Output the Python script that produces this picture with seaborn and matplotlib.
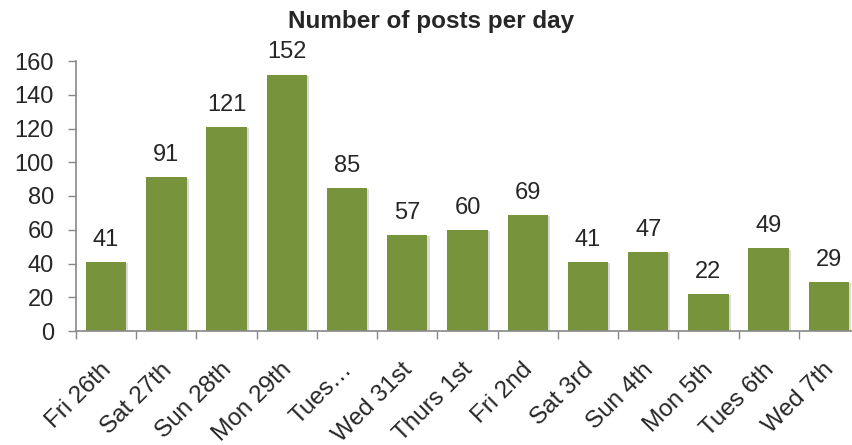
import matplotlib
matplotlib.use("Agg")
import matplotlib.pyplot as plt
import matplotlib.transforms as mtransforms
import matplotlib.patheffects as pe
import seaborn as sns
import pandas as pd
import numpy as np
from matplotlib.ticker import FixedLocator

days = ["Fri 26th", "Sat 27th", "Sun 28th", "Mon 29th", "Tues…", "Wed 31st",
        "Thurs 1st", "Fri 2nd", "Sat 3rd", "Sun 4th", "Mon 5th", "Tues 6th", "Wed 7th"]
posts = [41, 91, 121, 152, 85, 57, 60, 69, 41, 47, 22, 49, 29]
y_ticks = [0, 20, 40, 60, 80, 100, 120, 140, 160]

sns.set_style("white")
plt.rcParams["font.family"] = ["Liberation Sans", "DejaVu Sans"]

df = pd.DataFrame({"day": days, "posts": posts})

fig = plt.figure(figsize=(8.52, 4.45), dpi=100)
ax = fig.add_axes([76 / 852, 1 - 331 / 445, 783 / 852, 270 / 445])

sns.barplot(data=df, x="day", y="posts", color="#77933C", saturation=1,
            width=0.67, ax=ax, edgecolor="none")

# soft drop shadow on the bars
for bar in ax.patches:
    bar.set_path_effects([pe.SimplePatchShadow(offset=(1.5, -1), shadow_rgbFace="#9a9a9a",
                                               alpha=0.35),
                          pe.Normal()])

ax.set_xlim(-0.5, len(days) - 0.5)
ax.set_ylim(0, 160)
ax.set_yticks(y_ticks)
ax.tick_params(axis="y", labelsize=17, length=6, width=1, color="#888888",
               direction="out", left=True, pad=10)

# category labels at bar centres, tick marks at category boundaries
ax.set_xticks(range(len(days)))
ax.set_xticklabels(days, rotation=45, ha="right", va="top",
                   rotation_mode="anchor", fontsize=17.5)
ax.tick_params(axis="x", which="major", length=0, pad=20)
shift = mtransforms.ScaledTranslation(-6 / 100, 0, fig.dpi_scale_trans)
for lab in ax.get_xticklabels():
    lab.set_transform(lab.get_transform() + shift)
ax.xaxis.set_minor_locator(FixedLocator(np.arange(-0.5, len(days), 1.0)))
ax.tick_params(axis="x", which="minor", length=6, width=1, color="#888888",
               direction="out", bottom=True)

for side in ["top", "right"]:
    ax.spines[side].set_visible(False)
for side in ["left", "bottom"]:
    ax.spines[side].set_color("#888888")
    ax.spines[side].set_linewidth(1.2)

ax.set_xlabel("")
ax.set_ylabel("")

for i, v in enumerate(posts):
    ax.text(i, v + 9.5, str(v), ha="center", va="baseline", fontsize=17)

fig.text(431 / 852, 1 - 28 / 445, "Number of posts per day", ha="center", va="baseline",
         fontsize=17.5, fontweight="bold")

fig.savefig("out.png", dpi=100)
